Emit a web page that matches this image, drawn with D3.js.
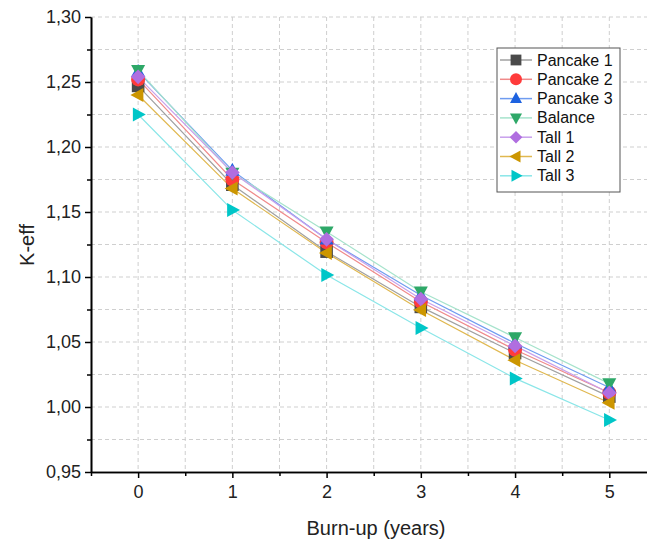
<!DOCTYPE html>
<html><head><meta charset="utf-8">
<script src="https://cdn.jsdelivr.net/npm/d3@7"></script>
<style>body{margin:0;background:#fff}svg{display:block;font-family:"Liberation Sans",Arial,sans-serif}</style>
</head><body><svg id="c" width="647" height="544"></svg>
<script>
const years = [0, 1, 2, 3, 4, 5];
const seriesNames = ["Pancake 1", "Pancake 2", "Pancake 3", "Balance", "Tall 1", "Tall 2", "Tall 3"];
const pancake1 = [1.247, 1.171, 1.1195, 1.077, 1.0415, 1.008];
const pancake2 = [1.252, 1.175, 1.1266, 1.081, 1.044, 1.011];
const pancake3 = [1.258, 1.182, 1.129, 1.086, 1.049, 1.015];
const balance  = [1.259, 1.180, 1.1348, 1.0887, 1.0535, 1.018];
const tall1    = [1.254, 1.1804, 1.129, 1.083, 1.047, 1.0108];
const tall2    = [1.240, 1.168, 1.1185, 1.0746, 1.036, 1.0033];
const tall3    = [1.225, 1.1515, 1.1015, 1.0608, 1.022, 0.990];
const yTicks = [0.95, 1.00, 1.05, 1.10, 1.15, 1.20, 1.25, 1.30];
const xTicks = [0, 1, 2, 3, 4, 5];

const allValues = [pancake1, pancake2, pancake3, balance, tall1, tall2, tall3];
const colors = ["#4a4a4a", "#ff3b3b", "#1d62e0", "#2ea868", "#b06ee0", "#cc9600", "#00c6c8"];
const lineColors = ["#a0a0a0", "#f08a8a", "#6f9cf0", "#a6e3cc", "#c8a0ec", "#e0b850", "#8ae6e8"];
const shapes = ["square", "circle", "triUp", "triDown", "diamond", "triLeft", "triRight"];

const svg = d3.select("#c");
const L = 91, R = 647, T = 17, B = 472;
const x = d3.scaleLinear().domain([-0.5, 5.4]).range([L, R]);
const y = d3.scaleLinear().domain([0.95, 1.30]).range([B, T]);

// grid
const gx = d3.range(-0.5, 5.41, 0.5).filter(v => v > -0.5);
const gy = d3.range(0, 15).map(i => 0.95 + i * 0.025).filter(v => v > 0.951 && v < 1.301);
svg.append("g").selectAll("line").data(gx).join("line")
  .attr("x1", d => x(d)).attr("x2", d => x(d)).attr("y1", T).attr("y2", B)
  .attr("stroke", "#cfcfcf").attr("stroke-width", 1).attr("stroke-dasharray", "4,3");
svg.append("g").selectAll("line").data(gy).join("line")
  .attr("x1", L).attr("x2", R).attr("y1", d => y(d)).attr("y2", d => y(d))
  .attr("stroke", "#cfcfcf").attr("stroke-width", 1).attr("stroke-dasharray", "4,3");

// axes
const fmt = d => d3.format(".2f")(d).replace(".", ",");
const yAxis = svg.append("g").attr("transform", `translate(${L},0)`)
  .call(d3.axisLeft(y).tickValues(yTicks).tickFormat(fmt).tickSize(6).tickSizeOuter(0));
const yMinor = svg.append("g").attr("transform", `translate(${L},0)`)
  .call(d3.axisLeft(y).tickValues(yTicks.slice(0, -1).map(v => v + 0.025)).tickFormat("").tickSize(4).tickSizeOuter(0));
const xAxis = svg.append("g").attr("transform", `translate(0,${B})`)
  .call(d3.axisBottom(x).tickValues(xTicks).tickFormat(d3.format("d")).tickSize(6).tickSizeOuter(0));
const xMinor = svg.append("g").attr("transform", `translate(0,${B})`)
  .call(d3.axisBottom(x).tickValues([-0.5, 0.5, 1.5, 2.5, 3.5, 4.5]).tickFormat("").tickSize(4).tickSizeOuter(0));
[yAxis, yMinor, xAxis, xMinor].forEach(g => {
  g.selectAll(".domain").attr("stroke", "#000").attr("stroke-width", 1.6);
  g.selectAll(".tick line").attr("stroke", "#000").attr("stroke-width", 1.5);
  g.selectAll("text").attr("font-size", 18).attr("fill", "#222").attr("font-family", "Liberation Sans, Arial, sans-serif");
});
yAxis.selectAll("text").attr("x", -10);
xAxis.selectAll("text").attr("y", 13);

svg.append("text").attr("x", 376).attr("y", 535).attr("text-anchor", "middle")
  .attr("font-size", 20).attr("fill", "#222").text("Burn-up (years)");
svg.append("text").attr("transform", "translate(34,245) rotate(-90)").attr("text-anchor", "middle")
  .attr("font-size", 20).attr("fill", "#222").text("K-eff");

function shapePath(s, r) {
  switch (s) {
    case "square": return `M${-r * 0.9},${-r * 0.9}H${r * 0.9}V${r * 0.9}H${-r * 0.9}Z`;
    case "circle": return d3.symbol(d3.symbolCircle, Math.PI * r * r)();
    case "triUp": return `M0,${-r * 1.1}L${r},${r * 0.75}L${-r},${r * 0.75}Z`;
    case "triDown": return `M0,${r * 1.1}L${r},${-r * 0.75}L${-r},${-r * 0.75}Z`;
    case "triLeft": return `M${-r * 1.1},0L${r * 0.75},${-r}L${r * 0.75},${r}Z`;
    case "triRight": return `M${r * 1.1},0L${-r * 0.75},${-r}L${-r * 0.75},${r}Z`;
    case "diamond": return `M0,${-r * 1.05}L${r * 1.05},0L0,${r * 1.05}L${-r * 1.05},0Z`;
  }
}

const line = d3.line().x((d, i) => x(years[i])).y(d => y(d));
allValues.forEach((vals, k) => {
  svg.append("path").datum(vals).attr("d", line).attr("fill", "none")
    .attr("stroke", lineColors[k]).attr("stroke-width", 1.2);
});
allValues.forEach((vals, k) => {
  svg.append("g").selectAll("path").data(vals).join("path")
    .attr("transform", (d, i) => `translate(${x(years[i])},${y(d)})`)
    .attr("d", shapePath(shapes[k], 7)).attr("fill", colors[k]);
});

// legend
const lg = svg.append("g");
lg.append("rect").attr("x", 497).attr("y", 48).attr("width", 123).attr("height", 144)
  .attr("fill", "#fff").attr("stroke", "#555").attr("stroke-width", 1);
seriesNames.forEach((n, k) => {
  const yy = 60 + k * 19.3;
  lg.append("line").attr("x1", 500).attr("x2", 532).attr("y1", yy).attr("y2", yy)
    .attr("stroke", lineColors[k]).attr("stroke-width", 1.5);
  lg.append("path").attr("transform", `translate(516,${yy})`).attr("d", shapePath(shapes[k], 6)).attr("fill", colors[k]);
  lg.append("text").attr("x", 537).attr("y", yy + 5.5).attr("font-size", 16).attr("fill", "#111").text(n);
});
</script></body></html>
